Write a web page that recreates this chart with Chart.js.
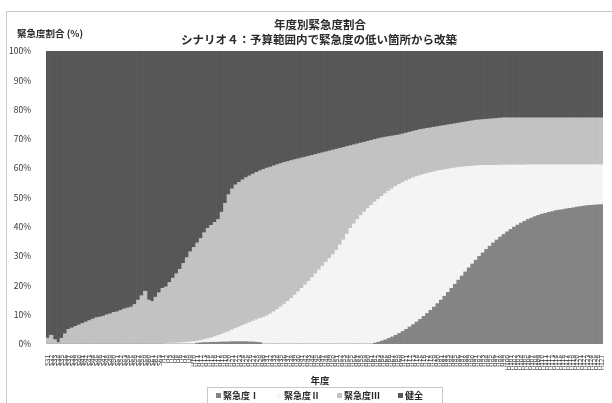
<!DOCTYPE html>
<html>
<head>
<meta charset="utf-8">
<script src="https://cdn.jsdelivr.net/npm/chart.js@4/dist/chart.umd.min.js"></script>
<style>
  html, body { margin: 0; padding: 0; background: #ffffff; }
  #wrap { width: 612px; height: 403px; position: relative; }
</style>
</head>
<body>
<div id="wrap"><canvas id="c" width="612" height="403"></canvas></div>
<script>
// 年度ラベル（S31〜S63、H1〜H127）
const years = [
  "S31","S32","S33","S34","S35","S36","S37","S38","S39","S40","S41","S42","S43","S44","S45","S46","S47","S48","S49","S50",
  "S51","S52","S53","S54","S55","S56","S57","S58","S59","S60","S61","S62","S63",
  "H1","H2","H3","H4","H5","H6","H7","H8","H9","H10","H11","H12","H13","H14","H15","H16","H17","H18","H19","H20",
  "H21","H22","H23","H24","H25","H26","H27","H28","H29","H30","H31","H32","H33","H34","H35","H36","H37","H38","H39","H40",
  "H41","H42","H43","H44","H45","H46","H47","H48","H49","H50","H51","H52","H53","H54","H55","H56","H57","H58","H59","H60",
  "H61","H62","H63","H64","H65","H66","H67","H68","H69","H70","H71","H72","H73","H74","H75","H76","H77","H78","H79","H80",
  "H81","H82","H83","H84","H85","H86","H87","H88","H89","H90","H91","H92","H93","H94","H95","H96","H97","H98","H99","H100",
  "H101","H102","H103","H104","H105","H106","H107","H108","H109","H110","H111","H112","H113","H114","H115","H116","H117","H118","H119","H120",
  "H121","H122","H123","H124","H125","H126","H127"
];

// 緊急度Ⅰ (%)
const urgency1 = [
  0,0,0,0,0,0,0,0,0,0, 0,0,0,0,0,0,0,0,0,0,
  0,0,0,0,0,0,0,0,0,0, 0,0,0,0,0,0,0,0,0,0,
  0,0,0,0.3,0.4,0.5,0.5,0.6,0.6,0.6, 0.7,0.7,0.7,0.8,0.8,0.8,0.8,0.8,0.7,0.7,
  0.6,0.5,0,0,0,0,0,0,0,0, 0,0,0,0,0,0,0,0,0,0,
  0,0,0,0,0,0,0,0,0,0, 0,0,0,0,0.3,0.6,1,1.4,1.9,2.4,
  3,3.6,4.3,5,5.8,6.6,7.5,8.4,9.4,10.4, 11.5,12.6,13.8,15,16.3,17.6,19,20.4,21.8,23.2,
  24.6,26,27.3,28.6,29.9,31.1,32.3,33.4,34.5,35.5, 36.5,37.4,38.3,39.1,39.9,40.6,41.3,41.9,42.5,43,
  43.5,43.9,44.3,44.6,44.9,45.2,45.5,45.7,45.9,46.1, 46.3,46.5,46.7,46.9,47.1,47.2,47.3,47.4,47.5,47.6
];

// 緊急度Ⅱ (%)
const urgency2 = [
  0,0,0,0,0,0,0,0,0,0, 0,0,0,0,0,0,0,0,0,0,
  0,0,0,0,0,0,0,0,0,0, 0,0,0,0,0.2,0.3,0.3,0.4,0.4,0.5,
  0.6,0.7,0.8,0.7,0.8,1.0,1.3,1.5,1.9,2.3, 2.6,3.1,3.5,4.0,4.5,5.0,5.5,6.0,6.6,7.1,
  7.7,8.2,9.1,9.6,10.3,11,11.8,12.7,13.6,14.6, 15.6,16.7,17.8,19,20.2,21.4,22.7,24,25.3,26.6,
  27.9,29.2,30.5,32,33.8,35.5,37.5,39.5,41,42.5, 43.8,45,46.2,47.3,48.1,48.8,49.4,49.9,50.3,50.6,
  50.8,50.9,50.8,50.7,50.4,50.1,49.6,49.1,48.5,47.8, 47.0,46.2,45.3,44.3,43.2,42.1,40.9,39.7,38.5,37.2,
  35.9,34.6,33.4,32.2,31.0,29.9,28.7,27.6,26.5,25.5, 24.5,23.7,22.8,22.0,21.2,20.5,19.8,19.2,18.7,18.2,
  17.7,17.3,16.9,16.6,16.3,16.0,15.7,15.5,15.3,15.1, 14.9,14.7,14.5,14.3,14.1,14.0,13.9,13.8,13.7,13.6
];

// 緊急度Ⅲ (%)
const urgency3 = [
  2,3,1.5,0.5,2,3.5,5,5.5,6,6.5, 7,7.5,8,8.5,9,9.2,9.5,10,10.3,10.8,
  11,11.5,12,12.3,12.6,13.5,15,16.5,18,15, 14.5,16,17.5,19,19.3,20.7,22.2,23.6,25.1,27.0,
  28.9,30.8,32.2,33.5,34.8,36.5,37.7,38.4,39.0,39.6, 41.7,44.2,46.8,48.2,49.0,49.4,49.7,50.0,50.1,50.2,
  50.3,50.4,50.5,50.4,50.1,49.8,49.4,48.9,48.4,47.7, 47.0,46.2,45.4,44.5,43.6,42.7,41.7,40.7,39.7,38.7,
  37.7,36.7,35.7,34.5,33.0,31.6,29.9,28.2,27.0,25.8, 24.8,23.9,23.0,22.2,21.4,20.7,20.0,19.3,18.6,18.0,
  17.4,16.9,16.6,16.3,16.1,15.9,15.8,15.7,15.5,15.4, 15.3,15.2,15.1,15.1,15.1,15.1,15.1,15.1,15.1,15.2,
  15.3,15.4,15.5,15.6,15.6,15.6,15.7,15.8,15.9,16.0, 16.1,16.1,16.1,16.1,16.1,16.1,16.1,16.1,16.0,16.0,
  16.0,16.0,16.0,16.0,16.0,16.0,16.0,16.0,16.0,16.0, 16.0,16.0,16.0,16.0,16.0,16.0,16.0,16.0,16.0,16.0
];

// 健全 (%)
const sound = [
  98,97,98.5,99.5,98,96.5,95,94.5,94,93.5, 93,92.5,92,91.5,91,90.8,90.5,90,89.7,89.2,
  89,88.5,88,87.7,87.4,86.5,85,83.5,82,85, 85.5,84,82.5,81,80.5,79,77.5,76,74.5,72.5,
  70.5,68.5,67,65.5,64,62,60.5,59.5,58.5,57.5, 55,52,49,47,45.7,44.8,44,43.2,42.6,42,
  41.4,40.9,40.4,40,39.6,39.2,38.8,38.4,38,37.7, 37.4,37.1,36.8,36.5,36.2,35.9,35.6,35.3,35,34.7,
  34.4,34.1,33.8,33.5,33.2,32.9,32.6,32.3,32,31.7, 31.4,31.1,30.8,30.5,30.2,29.9,29.6,29.4,29.2,29,
  28.8,28.6,28.3,28,27.7,27.4,27.1,26.8,26.6,26.4, 26.2,26,25.8,25.6,25.4,25.2,25,24.8,24.6,24.4,
  24.2,24,23.8,23.6,23.5,23.4,23.3,23.2,23.1,23, 22.9,22.8,22.8,22.8,22.8,22.8,22.8,22.8,22.8,22.8,
  22.8,22.8,22.8,22.8,22.8,22.8,22.8,22.8,22.8,22.8, 22.8,22.8,22.8,22.8,22.8,22.8,22.8,22.8,22.8,22.8
];

const yTicks = [0, 10, 20, 30, 40, 50, 60, 70, 80, 90, 100];

const seriesNames = ["緊急度Ⅰ", "緊急度Ⅱ", "緊急度Ⅲ", "健全"];
const seriesColors = ["#848484", "#f4f4f4", "#c2c2c2", "#575757"];

const JP = '"Noto Sans CJK JP", "Noto Sans", sans-serif';

// タイトル・軸タイトル・凡例・外枠の描画
const decorations = {
  id: 'decorations',
  afterDraw(chart) {
    const ctx = chart.ctx;
    ctx.save();

    // 外枠
    ctx.strokeStyle = '#c8c8c8';
    ctx.lineWidth = 1;
    ctx.beginPath();
    ctx.moveTo(6.5, 403);
    ctx.lineTo(6.5, 11.5);
    ctx.lineTo(612, 11.5);
    ctx.stroke();

    // タイトル
    ctx.fillStyle = '#2a2a2a';
    ctx.textAlign = 'center';
    ctx.textBaseline = 'middle';
    ctx.font = 'bold 11.5px ' + JP;
    ctx.fillText('年度別緊急度割合', 320, 25);
    ctx.fillText('シナリオ４：予算範囲内で緊急度の低い箇所から改築', 319, 40);

    // 縦軸タイトル
    ctx.textAlign = 'left';
    ctx.font = 'bold 9.5px ' + JP;
    ctx.fillText('緊急度割合 (%)', 17, 33);

    // 横軸タイトル
    ctx.textAlign = 'center';
    ctx.font = 'bold 9.5px ' + JP;
    ctx.fillText('年度', 320, 380);

    // 凡例
    ctx.strokeStyle = '#c8c8c8';
    ctx.strokeRect(207.5, 387.5, 235, 20);
    const itemX = [216, 277, 337, 398];
    ctx.textAlign = 'left';
    ctx.font = 'bold 9px ' + JP;
    chart.data.datasets.forEach((ds, i) => {
      ctx.fillStyle = ds.backgroundColor;
      ctx.fillRect(itemX[i], 393, 5, 5);
      ctx.fillStyle = '#2a2a2a';
      ctx.fillText(ds.label, itemX[i] + 7, 395.5);
    });

    ctx.restore();
  }
};

new Chart(document.getElementById('c'), {
  type: 'bar',
  data: {
    labels: years,
    datasets: [
      { label: seriesNames[0], data: urgency1, backgroundColor: seriesColors[0] },
      { label: seriesNames[1], data: urgency2, backgroundColor: seriesColors[1] },
      { label: seriesNames[2], data: urgency3, backgroundColor: seriesColors[2] },
      { label: seriesNames[3], data: sound, backgroundColor: seriesColors[3] }
    ]
  },
  options: {
    responsive: false,
    animation: false,
    layout: { padding: { left: 0, right: 6, top: 51, bottom: 31 } },
    datasets: {
      bar: { categoryPercentage: 1, barPercentage: 1, borderWidth: 0 }
    },
    plugins: {
      legend: { display: false },
      title: { display: false },
      tooltip: { enabled: false }
    },
    scales: {
      x: {
        stacked: true,
        grid: { display: false },
        border: { display: false },
        ticks: {
          minRotation: 90,
          maxRotation: 90,
          autoSkip: false,
          padding: 3,
          color: '#444',
          font: { size: 6.5, family: JP }
        },
        afterFit(scale) { scale.height = 28; }
      },
      y: {
        stacked: true,
        min: 0,
        max: 100,
        afterBuildTicks(scale) { scale.ticks = yTicks.map(v => ({ value: v })); },
        grid: { display: false },
        border: { display: false },
        ticks: {
          padding: 7,
          color: '#333',
          font: { size: 8.5, family: JP },
          callback: v => v + '%'
        },
        afterFit(scale) { scale.width = 46; }
      }
    }
  },
  plugins: [decorations]
});
</script>
</body>
</html>
